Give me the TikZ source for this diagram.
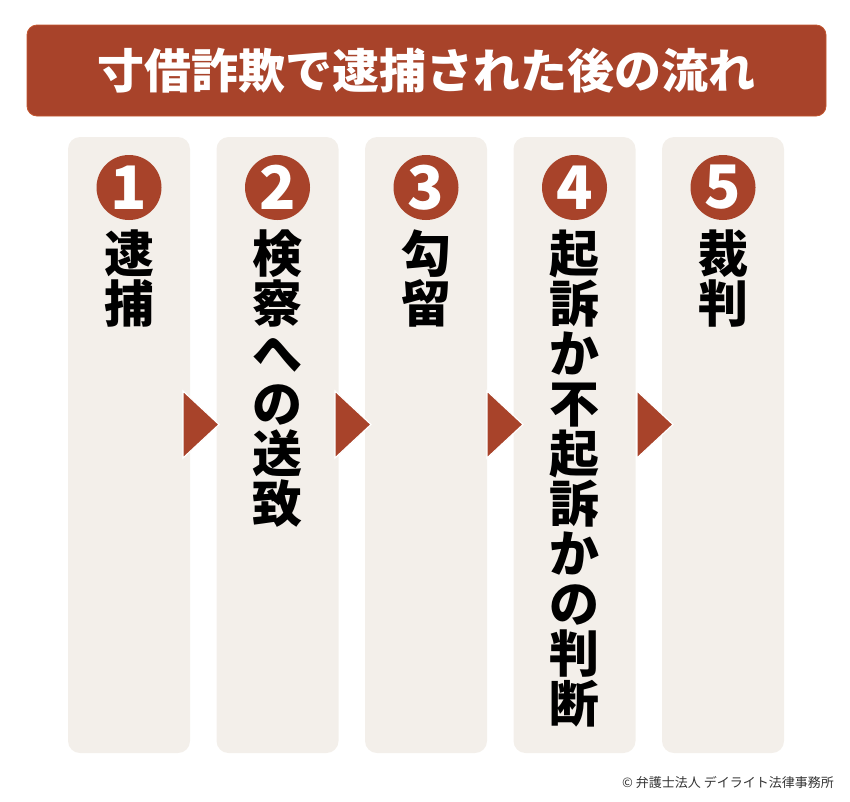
\documentclass[tikz,border=0pt]{standalone}
\usepackage{fontspec}
\setmainfont{Noto Sans CJK JP}
\definecolor{rust}{HTML}{A8432A}
\definecolor{rustedge}{HTML}{C2562F}
\definecolor{paper}{HTML}{F3EFEA}
\tikzset{
  colbox/.style={fill=paper, rounded corners=12pt, minimum width=122pt, minimum height=616pt, inner sep=0pt},
  numdot/.style={circle, fill=rust, text=white, minimum size=65pt, inner sep=0pt, font=\fontsize{60}{60}\selectfont\bfseries},
  steplabel/.style={anchor=north, inner sep=0pt, align=center, font=\fontsize{50}{50}\selectfont\bfseries},
  nexttri/.style={fill=rust, draw=white, line width=1.2pt},
}
\begin{document}
\begin{tikzpicture}[x=1pt,y=-1pt]
\useasboundingbox (0,0) rectangle (850,801);
% title bar
\node[fill=rust, draw=rustedge, line width=0.8pt, rounded corners=10pt, minimum width=799pt, minimum height=91pt,
      text=white, font=\fontsize{47}{47}\selectfont\bfseries] (title) at (426.5,70.5) {寸借詐欺で逮捕された後の流れ};
% columns
\node[colbox] (col1) at (129,445) {};
\node[colbox] (col2) at (277.5,445) {};
\node[colbox] (col3) at (426,445) {};
\node[colbox] (col4) at (574.5,445) {};
\node[colbox] (col5) at (723,445) {};
% numbers
\node[numdot] (num1) at (129,187.5) {1};
\node[numdot] (num2) at (277.5,187.5) {2};
\node[numdot] (num3) at (426,187.5) {3};
\node[numdot] (num4) at (574.5,187.5) {4};
\node[numdot] (num5) at (723,187.5) {5};
% step texts
\node[steplabel] (lab1) at (129,230) {逮\\捕};
\node[steplabel] (lab2) at (277.5,230) {検\\察\\へ\\の\\送\\致};
\node[steplabel] (lab3) at (426,230) {勾\\留};
\node[steplabel] (lab4) at (574.5,230) {起\\訴\\か\\不\\起\\訴\\か\\の\\判\\断};
\node[steplabel] (lab5) at (723,230) {裁\\判};
% arrows between columns
\draw[nexttri] (183,391) -- (219,424.5) -- (183,458) -- cycle;
\draw[nexttri] (335,391) -- (371,424.5) -- (335,458) -- cycle;
\draw[nexttri] (487,391) -- (523,424.5) -- (487,458) -- cycle;
\draw[nexttri] (637,391) -- (673,424.5) -- (637,458) -- cycle;
% credit
\node[anchor=south east, inner sep=0pt, text=black!80, font=\fontsize{13}{13}\selectfont] (credit) at (834,789) {© 弁護士法人 デイライト法律事務所};
\end{tikzpicture}
\end{document}
